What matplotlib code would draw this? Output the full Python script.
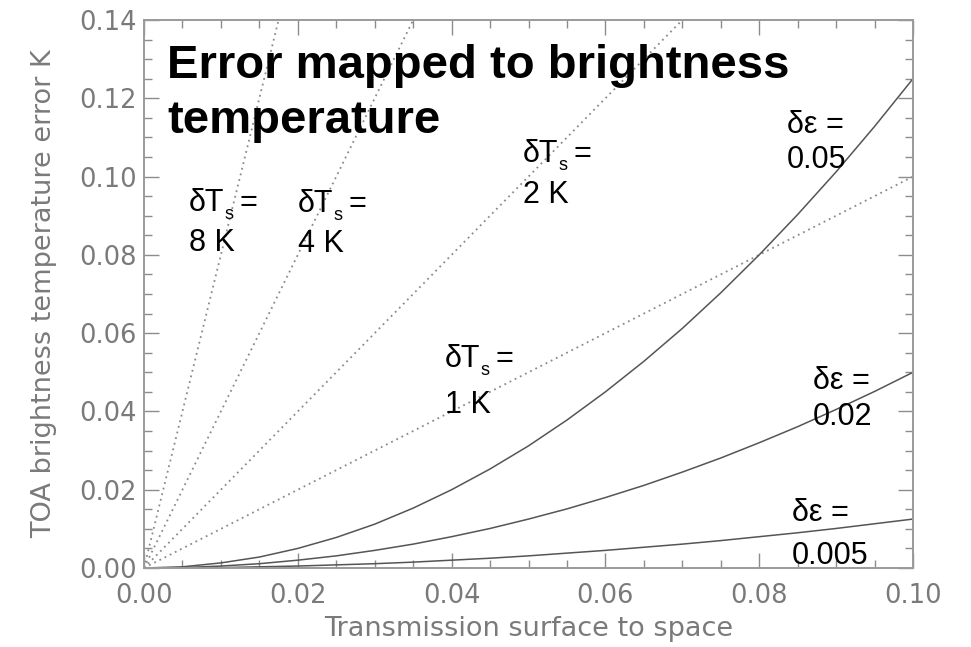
import matplotlib
matplotlib.use("Agg")
import matplotlib.pyplot as plt
from matplotlib.ticker import MultipleLocator, FormatStrFormatter

# Transmission (surface to space)
x_trans = [0.000, 0.005, 0.010, 0.015, 0.020, 0.025, 0.030, 0.035, 0.040, 0.045, 0.050,
           0.055, 0.060, 0.065, 0.070, 0.075, 0.080, 0.085, 0.090, 0.095, 0.100]

# Brightness temperature error from emissivity errors (solid curves)
err_eps_005 = [0.0, 0.0003, 0.0013, 0.0028, 0.0050, 0.0078, 0.0112, 0.0153, 0.0200, 0.0253, 0.0312,
               0.0378, 0.0450, 0.0528, 0.0612, 0.0703, 0.0800, 0.0903, 0.1012, 0.1128, 0.1250]
err_eps_002 = [0.0, 0.0001, 0.0005, 0.0011, 0.0020, 0.0031, 0.0045, 0.0061, 0.0080, 0.0101, 0.0125,
               0.0151, 0.0180, 0.0211, 0.0245, 0.0281, 0.0320, 0.0361, 0.0405, 0.0451, 0.0500]
err_eps_0005 = [0.0, 0.00003, 0.0001, 0.0003, 0.0005, 0.0008, 0.0011, 0.0015, 0.0020, 0.0025, 0.0031,
                0.0038, 0.0045, 0.0053, 0.0061, 0.0070, 0.0080, 0.0090, 0.0101, 0.0113, 0.0125]

# Brightness temperature error from surface temperature errors (dotted lines)
x_ts = [0.0, 0.10]
err_ts_1 = [0.0, 0.10]
err_ts_2 = [0.0, 0.20]
err_ts_4 = [0.0, 0.40]
err_ts_8 = [0.0, 0.80]

W, H = 971, 647
fig = plt.figure(figsize=(W / 100, H / 100), dpi=100)
ax = fig.add_axes([144 / W, (H - 568) / H, 769 / W, 548 / H])

dot_color = "#8a8a8a"
line_color = "#555555"
for yv in (err_ts_1, err_ts_2, err_ts_4, err_ts_8):
    ax.plot(x_ts, yv, color=dot_color, lw=1.3, linestyle=(0, (1, 2.2)))
for yv in (err_eps_005, err_eps_002, err_eps_0005):
    ax.plot(x_trans, yv, color=line_color, lw=1.1)

ax.set_xlim(0, 0.10)
ax.set_ylim(0, 0.14)

grey = "#8c8c8c"
ax.xaxis.set_major_locator(MultipleLocator(0.02))
ax.xaxis.set_minor_locator(MultipleLocator(0.005))
ax.yaxis.set_major_locator(MultipleLocator(0.02))
ax.yaxis.set_minor_locator(MultipleLocator(0.005))
ax.xaxis.set_major_formatter(FormatStrFormatter("%.2f"))
ax.yaxis.set_major_formatter(FormatStrFormatter("%.2f"))
ax.tick_params(which="both", direction="in", top=True, right=True, color=grey, width=1.0)
ax.tick_params(which="major", length=11)
ax.tick_params(which="minor", length=6)
ax.tick_params(axis="x", which="major", pad=11, labelsize=18.5, labelcolor="#7a7a7a")
ax.tick_params(axis="y", which="major", pad=5, labelsize=18.5, labelcolor="#7a7a7a")
for s in ax.spines.values():
    s.set_color("#9a9a9a")
    s.set_linewidth(1.4)

ax.set_xlabel("Transmission surface to space", fontsize=19.5, color="#7a7a7a", labelpad=5)
ax.set_ylabel("TOA brightness temperature error K", fontsize=19.5, color="#7a7a7a", labelpad=16)


def px(xp, yp):
    return xp / W, 1 - yp / H


tfont = dict(family="Liberation Sans", color="black")

fig.text(*px(167, 78), "Error mapped to brightness", fontsize=34, fontweight="bold",
         va="baseline", ha="left", **tfont)
fig.text(*px(167, 133), "temperature", fontsize=34, fontweight="bold",
         va="baseline", ha="left", **tfont)

renderer = fig.canvas.get_renderer()
LBL = 22


def ts_label(xl, yb1, yb2, value):
    t = fig.text(*px(xl, yb1), "δT", fontsize=LBL, va="baseline", ha="left", **tfont)
    x_end = t.get_window_extent(renderer).x1
    s = fig.text(x_end / W, 1 - (yb1 + 8) / H, "s", fontsize=13, va="baseline", ha="left", **tfont)
    s_end = s.get_window_extent(renderer).x1
    fig.text((s_end + 6) / W, 1 - yb1 / H, "=", fontsize=LBL, va="baseline", ha="left", **tfont)
    fig.text(*px(xl, yb2), value, fontsize=LBL, va="baseline", ha="left", **tfont)


def eps_label(xl, yb1, yb2, value):
    fig.text(*px(xl, yb1), "δε =", fontsize=LBL, va="baseline", ha="left", **tfont)
    fig.text(*px(xl, yb2), value, fontsize=LBL, va="baseline", ha="left", **tfont)


ts_label(189, 211, 251, "8 K")
ts_label(298, 212, 252, "4 K")
ts_label(523, 162, 203, "2 K")
ts_label(445, 367, 413, "1 K")
eps_label(787, 133, 168, "0.05")
eps_label(813, 389, 425, "0.02")
eps_label(792, 521, 564, "0.005")

fig.savefig("out.png", dpi=100)
